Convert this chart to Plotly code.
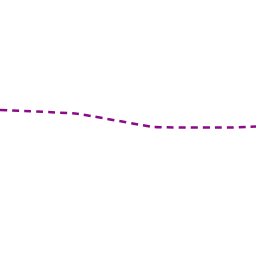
import plotly.graph_objects as go

x_vals = [0, 1, 2, 3, 4]
y_vals = [5.70, 5.56, 5.04, 5.02, 5.14]

fig = go.Figure()
fig.add_trace(go.Scatter(
    x=x_vals, y=y_vals, mode="lines",
    line=dict(color="#8B0A87", width=2.5, dash="7px,5px", shape="spline", smoothing=0.3),
    showlegend=False, hoverinfo="skip",
))
fig.update_layout(
    width=256, height=256,
    margin=dict(l=0, r=0, t=0, b=0),
    paper_bgcolor="white", plot_bgcolor="white",
    xaxis=dict(range=[0, 256/77], visible=False, fixedrange=True),
    yaxis=dict(range=[0, 10], visible=False, fixedrange=True),
)
fig.write_html("out.html", config={"displayModeBar": False})
